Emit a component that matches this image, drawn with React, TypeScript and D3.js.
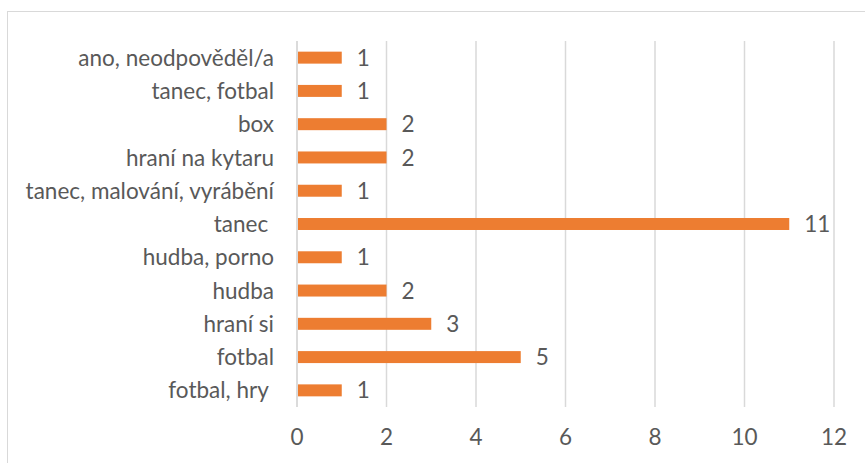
import { scaleBand, scaleLinear } from "d3";

const WIDTH = 865;
const HEIGHT = 463;

const categories = [
  "ano, neodpověděl/a",
  "tanec, fotbal",
  "box",
  "hraní na kytaru",
  "tanec, malování, vyrábění",
  "tanec ",
  "hudba, porno",
  "hudba",
  "hraní si",
  "fotbal",
  "fotbal, hry ",
];
const values = [1, 1, 2, 2, 1, 11, 1, 2, 3, 5, 1];
const ticks = [0, 2, 4, 6, 8, 10, 12];

const plot = { left: 297, right: 834, top: 41, bottom: 407 };
const FONT = "Lato, 'Open Sans', sans-serif";
const TEXT = "#595959";
const FS = 22.5;

export default function App() {
  const x = scaleLinear().domain([0, 12]).range([plot.left, plot.right]);
  const y = scaleBand()
    .domain(categories)
    .range([plot.top, plot.bottom])
    .paddingInner(0.64)
    .paddingOuter(0.32);

  return (
    <svg
      width={WIDTH}
      height={HEIGHT}
      style={{ position: "absolute", left: 0, top: 0 }}
      fontFamily={FONT}
    >
      <rect x={0} y={0} width={WIDTH} height={HEIGHT} fill="#fff" />
      <rect
        x={7.5}
        y={11.5}
        width={WIDTH}
        height={HEIGHT}
        fill="none"
        stroke="#d9d9d9"
        strokeWidth={1}
      />
      {ticks.slice(1).map((t) => (
        <line
          key={t}
          x1={x(t)}
          x2={x(t)}
          y1={plot.top}
          y2={plot.bottom}
          stroke="#d9d9d9"
          strokeWidth={1.5}
        />
      ))}
      <line
        x1={x(0)}
        x2={x(0)}
        y1={plot.top}
        y2={plot.bottom}
        stroke="#cfcfcf"
        strokeWidth={1.5}
      />
      {categories.map((c, i) => {
        const by = y(c) ?? 0;
        const cy = by + y.bandwidth() / 2;
        return (
          <g key={c}>
            <rect
              x={x(0) + 1}
              y={by}
              width={x(values[i]) - x(0) - 1}
              height={y.bandwidth()}
              fill="#ED7D31"
            />
            <text
              x={x(values[i]) + 15}
              y={cy}
              dy="0.36em"
              fontSize={FS}
              fill={TEXT}
            >
              {values[i]}
            </text>
            <text
              x={274}
              y={cy}
              dy="0.36em"
              textAnchor="end"
              fontSize={FS}
              fill={TEXT}
              style={{ whiteSpace: "pre" }}
            >
              {c}
            </text>
          </g>
        );
      })}
      {ticks.map((t) => (
        <text
          key={t}
          x={x(t)}
          y={437}
          dy="0.36em"
          textAnchor="middle"
          fontSize={FS}
          fill={TEXT}
        >
          {t}
        </text>
      ))}
    </svg>
  );
}
